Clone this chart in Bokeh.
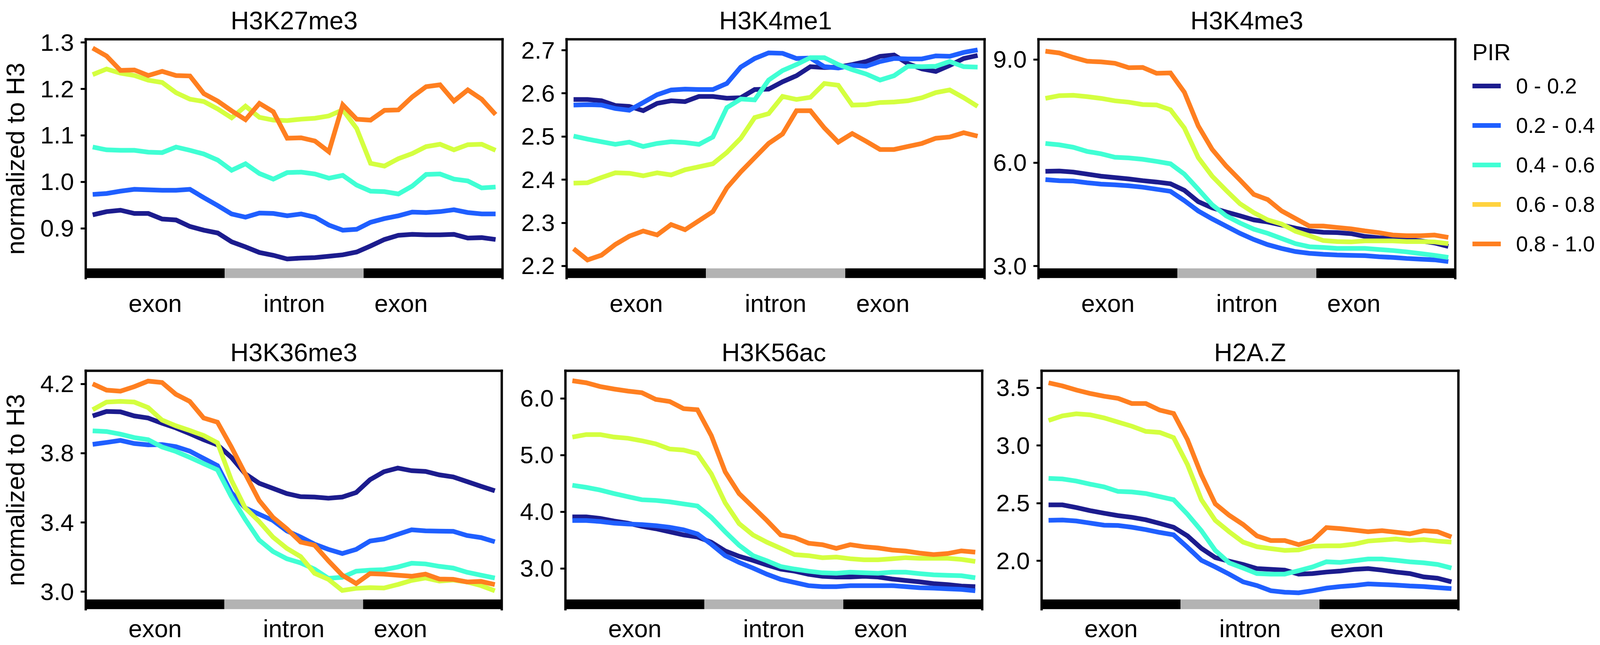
import numpy as np
from bokeh.plotting import figure
from bokeh.models import (Range1d, LinearAxis, FixedTicker, PrintfTickFormatter,
                          Legend, LegendItem)
from bokeh.layouts import row, column
from bokeh.embed import file_html
from bokeh.resources import INLINE

FONT = "Liberation Sans"

# ---------------- data ----------------
N_BINS = 30
PIR_BINS = ["0 - 0.2", "0.2 - 0.4", "0.4 - 0.6", "0.6 - 0.8", "0.8 - 1.0"]
LINE_COLORS = ["#1c1c8e", "#1f5fff", "#40ffd4", "#d4ff40", "#ff7f20"]
LEGEND_COLORS = ["#1c1c8e", "#1f5fff", "#40ffd4", "#ffd23f", "#ff7f20"]

REGIONS = ["exon", "intron", "exon"]
REGION_START = [0, 10, 20]
REGION_END = [10, 20, 30]
REGION_COLORS = ["#000000", "#b3b3b3", "#000000"]
REGION_LABEL_POS = [5, 15, 22.7]

# H3K27me3
k27_a = [0.929, 0.936, 0.939, 0.932, 0.932, 0.920, 0.918, 0.904, 0.896, 0.890,
         0.871, 0.860, 0.848, 0.842, 0.834, 0.836, 0.837, 0.840, 0.843, 0.849,
         0.862, 0.876, 0.885, 0.887, 0.886, 0.886, 0.887, 0.879, 0.880, 0.876]
k27_b = [0.973, 0.975, 0.980, 0.984, 0.983, 0.982, 0.982, 0.984, 0.966, 0.949,
         0.931, 0.924, 0.933, 0.932, 0.927, 0.931, 0.924, 0.907, 0.896, 0.898,
         0.913, 0.921, 0.927, 0.935, 0.934, 0.936, 0.940, 0.934, 0.931, 0.931]
k27_c = [1.075, 1.069, 1.068, 1.068, 1.064, 1.063, 1.075, 1.068, 1.060, 1.047,
         1.025, 1.039, 1.018, 1.006, 1.020, 1.021, 1.017, 1.008, 1.014, 0.993,
         0.980, 0.979, 0.974, 0.991, 1.016, 1.017, 1.006, 1.002, 0.987, 0.989]
k27_d = [1.231, 1.243, 1.234, 1.229, 1.219, 1.214, 1.192, 1.178, 1.173, 1.157,
         1.138, 1.163, 1.139, 1.133, 1.132, 1.135, 1.137, 1.142, 1.155, 1.115,
         1.040, 1.034, 1.050, 1.061, 1.076, 1.081, 1.069, 1.080, 1.081, 1.068]
k27_e = [1.288, 1.271, 1.240, 1.241, 1.229, 1.238, 1.229, 1.228, 1.190, 1.174,
         1.153, 1.134, 1.169, 1.151, 1.094, 1.095, 1.088, 1.065, 1.166, 1.135,
         1.133, 1.154, 1.155, 1.183, 1.205, 1.209, 1.174, 1.198, 1.178, 1.145]

# H3K4me1
k4me1_a = [2.586, 2.586, 2.583, 2.572, 2.570, 2.560, 2.577, 2.583, 2.581, 2.593,
           2.593, 2.589, 2.590, 2.609, 2.610, 2.627, 2.641, 2.662, 2.660, 2.661,
           2.667, 2.674, 2.686, 2.689, 2.669, 2.657, 2.651, 2.665, 2.681, 2.688]
k4me1_b = [2.573, 2.574, 2.573, 2.565, 2.561, 2.579, 2.597, 2.608, 2.610, 2.609,
           2.609, 2.623, 2.661, 2.681, 2.694, 2.693, 2.681, 2.682, 2.662, 2.659,
           2.665, 2.663, 2.674, 2.681, 2.680, 2.680, 2.687, 2.686, 2.695, 2.701]
k4me1_c = [2.501, 2.494, 2.488, 2.482, 2.487, 2.477, 2.484, 2.488, 2.486, 2.482,
           2.499, 2.567, 2.587, 2.585, 2.631, 2.653, 2.667, 2.683, 2.683, 2.667,
           2.655, 2.645, 2.631, 2.641, 2.663, 2.662, 2.663, 2.674, 2.662, 2.661]
k4me1_d = [2.392, 2.393, 2.405, 2.416, 2.415, 2.409, 2.416, 2.411, 2.423, 2.430,
           2.437, 2.463, 2.496, 2.544, 2.553, 2.593, 2.586, 2.591, 2.623, 2.619,
           2.573, 2.574, 2.579, 2.580, 2.583, 2.590, 2.602, 2.608, 2.590, 2.570]
k4me1_e = [2.240, 2.214, 2.225, 2.250, 2.269, 2.281, 2.272, 2.296, 2.284, 2.305,
           2.326, 2.381, 2.418, 2.451, 2.484, 2.506, 2.560, 2.560, 2.520, 2.487,
           2.507, 2.489, 2.470, 2.470, 2.477, 2.484, 2.496, 2.499, 2.509, 2.501]

# H3K4me3
k4me3_a = [5.75, 5.76, 5.73, 5.67, 5.61, 5.57, 5.53, 5.48, 5.44, 5.39,
           5.20, 4.87, 4.69, 4.57, 4.46, 4.34, 4.28, 4.19, 4.10, 4.02,
           3.98, 3.97, 3.94, 3.86, 3.82, 3.80, 3.77, 3.73, 3.67, 3.57]
k4me3_b = [5.51, 5.48, 5.47, 5.42, 5.38, 5.36, 5.33, 5.29, 5.23, 5.17,
           4.90, 4.60, 4.37, 4.16, 3.95, 3.77, 3.62, 3.51, 3.42, 3.37,
           3.34, 3.32, 3.31, 3.30, 3.27, 3.25, 3.22, 3.20, 3.18, 3.13]
k4me3_c = [6.56, 6.52, 6.45, 6.33, 6.26, 6.16, 6.14, 6.10, 6.04, 5.97,
           5.67, 5.23, 4.78, 4.46, 4.25, 4.07, 3.95, 3.80, 3.65, 3.56,
           3.54, 3.51, 3.51, 3.51, 3.48, 3.45, 3.41, 3.36, 3.31, 3.25]
k4me3_d = [7.87, 7.95, 7.96, 7.92, 7.87, 7.80, 7.76, 7.69, 7.68, 7.54,
           7.01, 6.15, 5.61, 5.20, 4.81, 4.55, 4.34, 4.22, 4.01, 3.88,
           3.74, 3.71, 3.70, 3.73, 3.73, 3.73, 3.71, 3.71, 3.70, 3.65]
k4me3_e = [9.24, 9.19, 9.06, 8.95, 8.93, 8.89, 8.76, 8.77, 8.60, 8.61,
           8.05, 7.07, 6.39, 5.91, 5.50, 5.08, 4.93, 4.60, 4.38, 4.16,
           4.16, 4.12, 4.08, 4.02, 3.97, 3.90, 3.88, 3.88, 3.90, 3.83]

# H3K36me3
k36_a = [4.015, 4.041, 4.039, 4.015, 4.003, 3.973, 3.946, 3.913, 3.878, 3.848,
         3.776, 3.681, 3.627, 3.597, 3.567, 3.549, 3.547, 3.540, 3.547, 3.573,
         3.647, 3.693, 3.714, 3.699, 3.695, 3.675, 3.663, 3.636, 3.609, 3.583]
k36_b = [3.851, 3.862, 3.874, 3.856, 3.848, 3.850, 3.838, 3.812, 3.770, 3.728,
         3.573, 3.484, 3.448, 3.412, 3.352, 3.316, 3.275, 3.245, 3.221, 3.245,
         3.293, 3.305, 3.332, 3.358, 3.352, 3.350, 3.349, 3.325, 3.313, 3.289]
k36_c = [3.929, 3.925, 3.910, 3.890, 3.878, 3.836, 3.810, 3.776, 3.740, 3.704,
         3.549, 3.418, 3.299, 3.233, 3.191, 3.167, 3.131, 3.078, 3.084, 3.119,
         3.125, 3.128, 3.143, 3.165, 3.161, 3.147, 3.137, 3.113, 3.096, 3.080]
k36_d = [4.051, 4.095, 4.099, 4.095, 4.063, 3.991, 3.958, 3.931, 3.902, 3.860,
         3.645, 3.484, 3.406, 3.316, 3.251, 3.203, 3.107, 3.072, 3.008, 3.020,
         3.024, 3.022, 3.042, 3.066, 3.080, 3.062, 3.068, 3.057, 3.036, 3.006]
k36_e = [4.200, 4.164, 4.158, 4.184, 4.216, 4.208, 4.140, 4.099, 4.003, 3.979,
         3.836, 3.681, 3.528, 3.430, 3.364, 3.287, 3.269, 3.179, 3.096, 3.048,
         3.105, 3.102, 3.096, 3.090, 3.102, 3.074, 3.072, 3.057, 3.060, 3.042]

# H3K56ac
k56_a = [3.909, 3.909, 3.883, 3.836, 3.799, 3.744, 3.701, 3.646, 3.591, 3.555,
         3.463, 3.310, 3.215, 3.142, 3.062, 2.989, 2.952, 2.898, 2.861, 2.850,
         2.850, 2.861, 2.850, 2.814, 2.788, 2.763, 2.733, 2.715, 2.690, 2.679]
k56_b = [3.846, 3.846, 3.828, 3.799, 3.784, 3.773, 3.755, 3.726, 3.682, 3.609,
         3.427, 3.226, 3.106, 3.007, 2.898, 2.807, 2.752, 2.697, 2.679, 2.679,
         2.697, 2.697, 2.697, 2.697, 2.679, 2.660, 2.653, 2.642, 2.631, 2.606]
k56_c = [4.467, 4.430, 4.383, 4.321, 4.266, 4.212, 4.200, 4.175, 4.138, 4.102,
         3.901, 3.646, 3.409, 3.226, 3.135, 3.033, 2.989, 2.952, 2.923, 2.916,
         2.934, 2.923, 2.916, 2.934, 2.934, 2.908, 2.887, 2.879, 2.872, 2.836]
k56_d = [5.317, 5.361, 5.361, 5.317, 5.296, 5.252, 5.197, 5.106, 5.088, 5.025,
         4.668, 4.157, 3.792, 3.591, 3.463, 3.354, 3.244, 3.226, 3.190, 3.201,
         3.171, 3.153, 3.153, 3.171, 3.190, 3.179, 3.179, 3.179, 3.160, 3.124]
k56_e = [6.310, 6.274, 6.208, 6.164, 6.128, 6.099, 5.982, 5.945, 5.818, 5.799,
         5.343, 4.704, 4.321, 4.084, 3.846, 3.591, 3.543, 3.445, 3.419, 3.354,
         3.419, 3.383, 3.361, 3.325, 3.306, 3.270, 3.244, 3.263, 3.310, 3.288]

# H2A.Z
h2az_a = [2.485, 2.485, 2.462, 2.435, 2.413, 2.392, 2.377, 2.356, 2.324, 2.291,
          2.216, 2.108, 2.027, 1.996, 1.968, 1.932, 1.925, 1.919, 1.884, 1.889,
          1.902, 1.911, 1.925, 1.932, 1.919, 1.902, 1.889, 1.860, 1.848, 1.817]
h2az_b = [2.351, 2.354, 2.345, 2.327, 2.309, 2.306, 2.291, 2.270, 2.246, 2.225,
          2.117, 2.004, 1.946, 1.884, 1.817, 1.785, 1.740, 1.727, 1.722, 1.740,
          1.763, 1.776, 1.785, 1.799, 1.794, 1.789, 1.781, 1.776, 1.767, 1.758]
h2az_c = [2.715, 2.710, 2.692, 2.665, 2.641, 2.602, 2.597, 2.584, 2.557, 2.530,
          2.404, 2.261, 2.090, 1.982, 1.937, 1.889, 1.884, 1.884, 1.914, 1.946,
          1.991, 1.986, 2.000, 2.015, 2.015, 2.004, 1.991, 1.982, 1.968, 1.937]
h2az_d = [3.218, 3.258, 3.276, 3.267, 3.240, 3.204, 3.168, 3.123, 3.114, 3.069,
          2.835, 2.530, 2.351, 2.252, 2.162, 2.122, 2.105, 2.090, 2.094, 2.126,
          2.130, 2.130, 2.144, 2.171, 2.180, 2.189, 2.176, 2.184, 2.171, 2.162]
h2az_e = [3.545, 3.518, 3.482, 3.452, 3.428, 3.410, 3.365, 3.365, 3.308, 3.279,
          3.051, 2.746, 2.494, 2.395, 2.315, 2.216, 2.176, 2.176, 2.140, 2.176,
          2.288, 2.279, 2.266, 2.252, 2.261, 2.248, 2.234, 2.261, 2.252, 2.207]

TITLES = ["H3K27me3", "H3K4me1", "H3K4me3", "H3K36me3", "H3K56ac", "H2A.Z"]
SERIES = [
    [k27_a, k27_b, k27_c, k27_d, k27_e],
    [k4me1_a, k4me1_b, k4me1_c, k4me1_d, k4me1_e],
    [k4me3_a, k4me3_b, k4me3_c, k4me3_d, k4me3_e],
    [k36_a, k36_b, k36_c, k36_d, k36_e],
    [k56_a, k56_b, k56_c, k56_d, k56_e],
    [h2az_a, h2az_b, h2az_c, h2az_d, h2az_e],
]
Y_RANGES = [(0.7928, 1.3070), (2.1718, 2.7255), (2.648, 9.587),
            (2.8996, 4.2756), (2.2810, 6.4860), (1.5792, 3.6493)]
Y_TICKS = [[0.9, 1.0, 1.1, 1.2, 1.3], [2.2, 2.3, 2.4, 2.5, 2.6, 2.7], [3.0, 6.0, 9.0],
           [3.0, 3.4, 3.8, 4.2], [3.0, 4.0, 5.0, 6.0], [2.0, 2.5, 3.0, 3.5]]
Y_LABEL = "normalized to H3"

# ---------------- layout (page px; page has no margin, visible width 4096) ----------------
FRAMES = [(216, 1286, 100, 711), (1450, 2520, 100, 711), (2658, 3725, 100, 711),
          (216, 1284, 948, 1558), (1447, 2514, 948, 1558), (2666, 3733, 948, 1558)]
FIGBOX = [(0, 1302, 0, 830), (1302, 2532, 0, 830), (2532, 3769, 0, 830),
          (0, 1302, 830, 1650), (1302, 2532, 830, 1650), (2532, 3769, 830, 1650)]
TITLE_STANDOFF = [24, 24, 24, 21, 21, 21]
XLABEL_STANDOFF = [29, 29, 29, 14, 14, 14]
BAR_PX = 25
LEG_BOX = (3769, 4096, 0, 830)

x = np.arange(N_BINS) + 0.5


def make_panel(k):
    fl, fr, ft, fb = FRAMES[k]
    gl, gr, gt, gb = FIGBOX[k]
    p = figure(width=gr - gl, height=gb - gt,
               x_range=Range1d(0, N_BINS), y_range=Range1d(*Y_RANGES[k]),
               output_backend="svg", toolbar_location=None,
               min_border_left=fl - gl, min_border_right=gr - fr,
               min_border_top=ft - gt, min_border_bottom=gb - fb)
    p.extra_y_ranges = {"bar": Range1d(0, fb - ft)}
    p.outline_line_color = None
    p.grid.visible = False
    p.background_fill_color = "white"
    p.border_fill_color = "white"

    p.title.text = TITLES[k]
    p.title.text_font = FONT
    p.title.text_font_size = "65px"
    p.title.text_font_style = "normal"
    p.title.text_color = "black"
    p.title.align = "center"
    p.title.standoff = TITLE_STANDOFF[k]

    # exon / intron / exon annotation bar
    p.quad(left=REGION_START, right=REGION_END, bottom=0, top=BAR_PX,
           fill_color=REGION_COLORS, line_color=None, y_range_name="bar")

    for ys, c in zip(SERIES[k], LINE_COLORS):
        p.line(x, ys, line_color=c, line_width=12, line_join="miter")

    ya = p.yaxis[0]
    ya.ticker = FixedTicker(ticks=Y_TICKS[k])
    ya.formatter = PrintfTickFormatter(format="%.1f")
    ya.axis_line_width = 6
    ya.axis_line_color = "black"
    ya.axis_line_cap = "square"
    ya.major_tick_out = 13
    ya.major_tick_in = 0
    ya.major_tick_line_width = 5
    ya.major_tick_line_color = "black"
    ya.minor_tick_line_color = None
    ya.major_label_standoff = 17
    ya.major_label_text_font = FONT
    ya.major_label_text_font_size = "62px"
    ya.major_label_text_color = "black"
    if k in (0, 3):
        ya.axis_label = Y_LABEL
        ya.axis_label_text_font = FONT
        ya.axis_label_text_font_size = "65px"
        ya.axis_label_text_font_style = "normal"
        ya.axis_label_text_color = "black"
        ya.axis_label_standoff = 24

    xa = p.xaxis[0]
    xa.ticker = FixedTicker(ticks=REGION_LABEL_POS)
    xa.major_label_overrides = dict(zip(REGION_LABEL_POS, REGIONS))
    xa.axis_line_color = None
    xa.major_tick_line_color = None
    xa.minor_tick_line_color = None
    xa.major_tick_out = 0
    xa.major_tick_in = 0
    xa.major_label_standoff = XLABEL_STANDOFF[k]
    xa.major_label_text_font = FONT
    xa.major_label_text_font_size = "63px"
    xa.major_label_text_color = "black"

    for loc in ("right", "above"):
        ax = LinearAxis(ticker=FixedTicker(ticks=[]), axis_line_width=6,
                        axis_line_color="black", axis_line_cap="square",
                        major_tick_line_color=None, minor_tick_line_color=None,
                        major_tick_out=0, major_tick_in=0, major_label_standoff=0)
        p.add_layout(ax, loc)
    return p


panels = [make_panel(k) for k in range(6)]

# legend (PIR classes)
ll, lr, lt, lb = LEG_BOX
leg = figure(width=lr - ll, height=lb - lt, x_range=Range1d(0, 1), y_range=Range1d(0, 1),
             output_backend="svg", toolbar_location=None,
             x_axis_location=None, y_axis_location=None,
             min_border_left=0, min_border_right=0, min_border_top=100,
             min_border_bottom=0)
leg.outline_line_color = None
leg.grid.visible = False
items = []
for lab, c in zip(PIR_BINS, LEGEND_COLORS):
    r = leg.line(x=[np.nan], y=[np.nan], line_color=c, line_width=12)
    items.append(LegendItem(label=lab, renderers=[r]))
legend = Legend(items=items, location="top_left", title="PIR",
                title_text_font=FONT, title_text_font_size="59px",
                title_text_font_style="normal", title_text_color="black", title_standoff=1,
                label_text_font=FONT, label_text_font_size="55px", label_text_color="black",
                glyph_width=73, glyph_height=101, label_height=101,
                label_standoff=39, spacing=0, padding=0, margin=0,
                border_line_color=None, background_fill_alpha=0)
leg.add_layout(legend)

layout = column(row(panels[0], panels[1], panels[2], leg),
                row(panels[3], panels[4], panels[5]))

open("out.html", "w").write(file_html(layout, INLINE))
